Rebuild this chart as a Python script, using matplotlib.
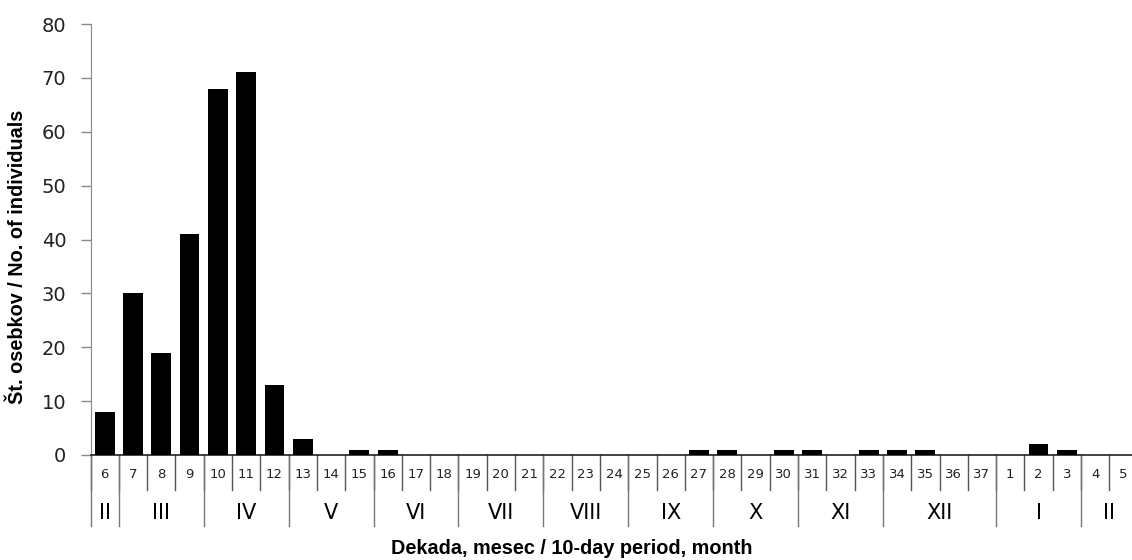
import numpy as np
from matplotlib import pyplot as plt

# decades (10-day periods) from February of one year to February of the next
decades = [str(d) for d in range(6, 38)] + ["1", "2", "3", "4", "5"]
counts = [8, 30, 19, 41, 68, 71, 13, 3, 0, 1, 1, 0, 0, 0, 0, 0, 0, 0, 0, 0, 0,
          1, 1, 0, 1, 1, 0, 1, 1, 1, 0, 0, 0, 2, 1, 0, 0]
months = ["II", "III", "IV", "V", "VI", "VII", "VIII", "IX", "X", "XI", "XII", "I", "II"]
month_sizes = [1, 3, 3, 3, 3, 3, 3, 3, 3, 3, 4, 3, 2]

W, H = 1132, 560
fig = plt.figure(figsize=(W / 100, H / 100), dpi=100)

# y=0 sits at pixel row 455, y=80 at row 24; axis runs past the right edge
x0, x1 = 90.5, 1137.6
ax = fig.add_axes([x0 / W, (H - 455) / H, (x1 - x0) / W, (455 - 24) / H])

x = np.arange(len(decades))
ax.bar(x, counts, width=0.7, color="black", zorder=3)

ax.set_xlim(-0.5, len(decades) - 0.5)
ax.set_ylim(0, 80)
ax.set_yticks(range(0, 81, 10))
ax.tick_params(axis="y", length=7.5, width=1, color="#888888", pad=10,
               labelsize=14, labelcolor="#222222")
ax.tick_params(axis="x", bottom=False, labelbottom=False)

for s in ["top", "right"]:
    ax.spines[s].set_visible(False)
ax.spines["left"].set_color("#888888")
ax.spines["bottom"].set_color("#222222")
ax.spines["bottom"].set_linewidth(1.2)

# data units per pixel, used for the two label rows under the axis
upp = 80 / (455 - 24)
row1_bottom = -(490 - 455) * upp
row2_bottom = -(526 - 455) * upp

for i, lab in enumerate(decades):
    ax.text(i, -(474 - 455) * upp, lab, ha="center", va="center",
            fontsize=9.5, color="#222222")

# short separators between decades
for i in range(len(decades) + 1):
    ax.plot([i - 0.5, i - 0.5], [0, row1_bottom], color="#555555", lw=1,
            clip_on=False)

# long separators at month boundaries, month names centred in their span
edges = np.concatenate([[0], np.cumsum(month_sizes)]) - 0.5
for e in edges:
    ax.plot([e, e], [0, row2_bottom], color="#777777", lw=1, clip_on=False)
for m, a, b in zip(months, edges[:-1], edges[1:]):
    ax.text((a + b) / 2, -(513 - 455) * upp, m, ha="center", va="center",
            fontsize=15, color="black")

fig.text(572 / W, 1 - 549 / H, "Dekada, mesec / 10-day period, month",
         ha="center", va="center", fontsize=14.3, fontweight="bold",
         family="Liberation Sans")
fig.text(18 / W, 1 - 257 / H, "Št. osebkov / No. of individuals",
         ha="center", va="center", rotation=90, fontsize=14.3,
         fontweight="bold", family="Liberation Sans")

fig.savefig("out.png", dpi=100)
